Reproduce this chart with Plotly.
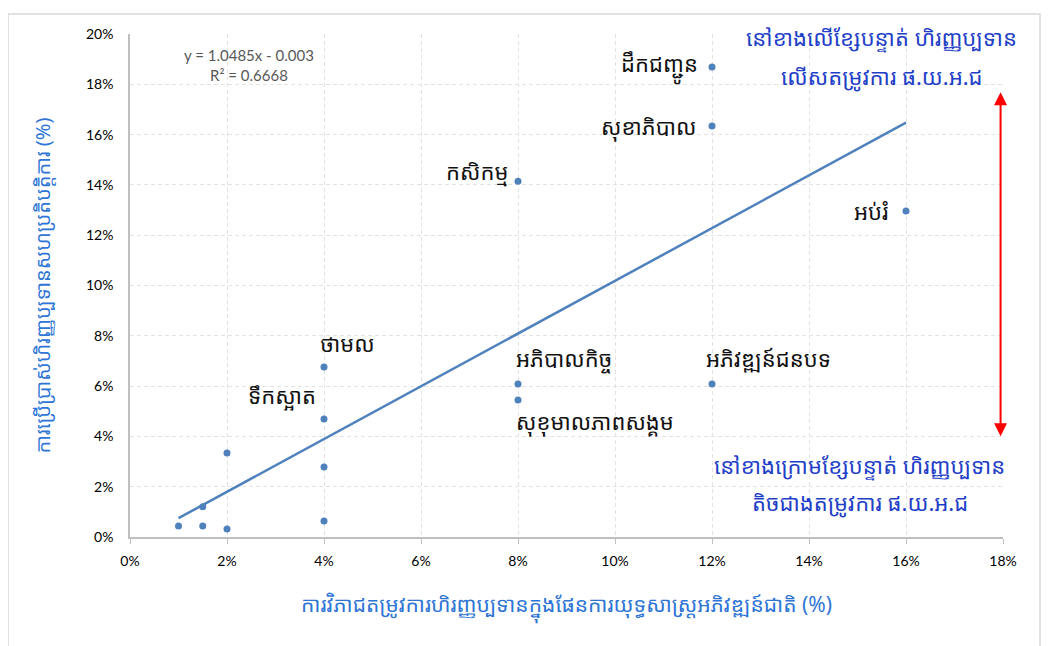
import plotly.graph_objects as go

# Data (fractions)
x_vals = [0.010, 0.015, 0.015, 0.020, 0.020, 0.040, 0.040, 0.040, 0.040,
          0.080, 0.080, 0.080, 0.120, 0.120, 0.120, 0.160]
y_vals = [0.0044, 0.0120, 0.0044, 0.0334, 0.0032, 0.0676, 0.0469, 0.0278, 0.0064,
          0.1415, 0.0608, 0.0545, 0.1869, 0.1634, 0.0608, 0.1296]

trend_slope = 1.0485
trend_intercept = -0.003
trend_x = [0.01, 0.16]

# Sector labels
label_text = ["ដឹកជញ្ជូន", "សុខាភិបាល", "កសិកម្ម", "អប់រំ", "ថាមល", "ទឹកស្អាត",
              "អភិបាលកិច្ច", "សុខុមាលភាពសង្គម", "អភិវឌ្ឍន៍ជនបទ"]
label_x = [0.120, 0.120, 0.080, 0.160, 0.040, 0.040, 0.080, 0.080, 0.120]
label_y = [0.1869, 0.1634, 0.1415, 0.1296, 0.0676, 0.0469, 0.0608, 0.0545, 0.0608]
label_xanchor = ["right", "right", "right", "right", "left", "right", "left", "left", "left"]
label_dx = [-12, -14, -8, -16, -6, -6, -4, -4, -8]
label_dy = [0, 0, -10, 0, -24, -24, -26, 22, -26]

x_title = "ការវិភាជតម្រូវការហិរញ្ញប្បទានក្នុងផែនការយុទ្ធសាស្ត្រអភិវឌ្ឍន៍ជាតិ (%)"
y_title = "ការប្រើប្រាស់ហិរញ្ញប្បទានសហប្រតិបត្តិការ (%)"
upper_note = ["នៅខាងលើខ្សែបន្ទាត់ ហិរញ្ញប្បទាន", "លើសតម្រូវការ ផ.យ.អ.ជ"]
lower_note = ["នៅខាងក្រោមខ្សែបន្ទាត់ ហិរញ្ញប្បទាន", "តិចជាងតម្រូវការ ផ.យ.អ.ជ"]
eq_text = "y = 1.0485x - 0.003<br>R² = 0.6668"

x_ticks = [0, 0.02, 0.04, 0.06, 0.08, 0.10, 0.12, 0.14, 0.16, 0.18]
y_ticks = [0, 0.02, 0.04, 0.06, 0.08, 0.10, 0.12, 0.14, 0.16, 0.18, 0.20]

blue = "#4F81BD"
font_main = "Lato, 'Open Sans', 'Noto Sans', sans-serif"
font_khmer = "'Noto Sans Khmer', 'Khmer OS', 'Noto Sans', sans-serif"
note_color = "#1f3fc8"

fig = go.Figure()
fig.add_trace(go.Scatter(
    x=trend_x, y=[trend_slope * v + trend_intercept for v in trend_x],
    mode="lines", line=dict(color=blue, width=2.5), hoverinfo="skip", showlegend=False))
fig.add_trace(go.Scatter(
    x=x_vals, y=y_vals, mode="markers",
    marker=dict(color=blue, size=7), showlegend=False))

for t, lx, ly, xa, dx, dy in zip(label_text, label_x, label_y, label_xanchor, label_dx, label_dy):
    fig.add_annotation(x=lx, y=ly, text=t, showarrow=False, xanchor=xa, yanchor="middle",
                       xshift=dx, yshift=-dy, font=dict(size=22, color="#111111", family=font_khmer))

fig.add_annotation(x=0.0245, y=0.1875, text=eq_text, showarrow=False, xanchor="center",
                   yanchor="middle", font=dict(size=15, color="#595959", family=font_main))

# note lines (paper coordinates so nothing is clipped)
note_lines = [(upper_note[0], 0.155, 0.1988), (upper_note[1], 0.155, 0.1833),
              (lower_note[0], 0.1505, 0.0286), (lower_note[1], 0.1505, 0.0139)]
for txt, nx, ny in note_lines:
    fig.add_annotation(x=nx / 0.18, y=ny / 0.20, xref="paper", yref="paper", text=txt,
                       showarrow=False, xanchor="center", yanchor="middle",
                       font=dict(size=22, color=note_color, family=font_khmer))

# double-headed red arrow
fig.add_annotation(x=0.1795, y=0.1768, ax=0.1795, ay=0.0395, xref="x", yref="y",
                   axref="x", ayref="y", text="", showarrow=True, arrowhead=2,
                   arrowside="end+start", arrowsize=1.3, arrowwidth=2, arrowcolor="#ff0000")

# outer chart border
fig.add_shape(type="rect", xref="paper", yref="paper", x0=-0.1397, x1=1.0424,
              y0=-0.24, y1=1.0398, line=dict(color="#d9d9d9", width=1.5), layer="below")

fig.update_layout(
    width=1041, height=638,
    margin=dict(l=122, r=46, t=26, b=109),
    paper_bgcolor="white", plot_bgcolor="white",
    font=dict(family=font_main, size=14, color="#000000"),
    xaxis=dict(range=[0, 0.18], tickvals=x_ticks, tickformat=".0%",
               showgrid=True, gridcolor="#e3e3e3", griddash="4px,3px", gridwidth=1,
               showline=True, linecolor="#bfbfbf", linewidth=1.5,
               ticks="outside", ticklen=5, tickcolor="#bfbfbf", ticklabelstandoff=5,
               zeroline=False, tickfont=dict(size=14, color="#000000"),
               title=dict(text=x_title, font=dict(size=21, color="#2e75d6", family=font_khmer),
                          standoff=30)),
    yaxis=dict(range=[0, 0.20], tickvals=y_ticks, tickformat=".0%",
               showgrid=True, gridcolor="#e3e3e3", griddash="4px,3px", gridwidth=1,
               showline=True, linecolor="#bfbfbf", linewidth=1.5,
               ticks="", ticklabelstandoff=12, zeroline=False,
               tickfont=dict(size=14, color="#000000"),
               title=dict(text=y_title, font=dict(size=20, color="#2e75d6", family=font_khmer),
                          standoff=30)),
)

fig.write_html("out.html")
